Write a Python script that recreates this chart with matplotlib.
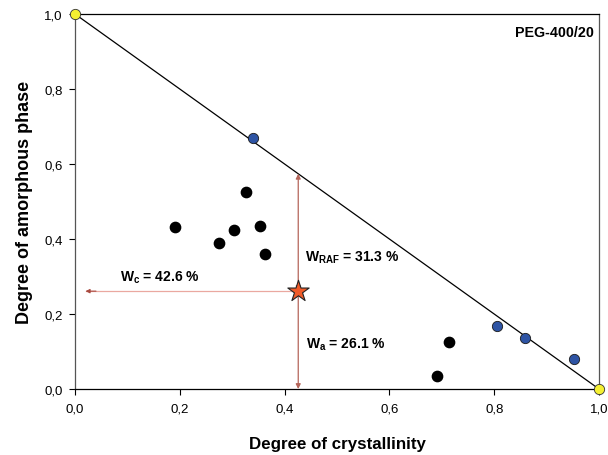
import matplotlib
matplotlib.use('Agg')
import matplotlib.pyplot as plt
from matplotlib.ticker import FuncFormatter

plt.rcParams['font.family'] = ['Liberation Sans', 'DejaVu Sans']

# samples (black)
xc_black = [0.191, 0.275, 0.303, 0.326, 0.353, 0.363, 0.714, 0.691]
xa_black = [0.432, 0.389, 0.424, 0.525, 0.435, 0.360, 0.125, 0.035]
# samples on the two-phase line (blue)
xc_blue = [0.340, 0.805, 0.859, 0.952]
xa_blue = [0.669, 0.168, 0.136, 0.080]
# end points
xc_end = [0.0, 1.0]
xa_end = [1.0, 0.0]
# PEG-400/20 point
wc = 0.426
wa = 0.261
wraf = 0.313

fig = plt.figure(figsize=(6.08, 4.56), dpi=100)
ax = fig.add_axes([0.1234, 0.1447, 0.8618, 0.8223])

ax.plot(xc_end, xa_end, color='black', lw=0.9, zorder=2)

arrow_col = '#b5655a'
# vertical arrows (W_RAF and W_a)
ax.annotate('', xy=(wc, 1 - wc), xytext=(wc, wa),
            arrowprops=dict(arrowstyle='<|-|>', color=arrow_col, lw=0.9,
                            mutation_scale=7, shrinkA=0, shrinkB=0))
ax.annotate('', xy=(wc, 0.0), xytext=(wc, wa),
            arrowprops=dict(arrowstyle='-|>', color=arrow_col, lw=0.9,
                            mutation_scale=7, shrinkA=0, shrinkB=0))
# horizontal arrow (W_c)
ax.plot([0.02, wc], [wa, wa], color='#eaa8a0', lw=0.9, zorder=1)
ax.annotate('', xy=(0.02, wa), xytext=(0.04, wa),
            arrowprops=dict(arrowstyle='-|>', color='#a84a40', lw=0.8,
                            mutation_scale=6, shrinkA=0, shrinkB=0))

ax.scatter(xc_black, xa_black, s=55, color='black', zorder=3, clip_on=False)
ax.scatter(xc_blue, xa_blue, s=55, color='#2e54a4', edgecolor='#1a1a1a',
           linewidth=0.6, zorder=3, clip_on=False)
ax.scatter(xc_end, xa_end, s=55, color='#f5f032', edgecolor='#333333',
           linewidth=0.6, zorder=4, clip_on=False)
ax.scatter([wc], [wa], s=260, marker='*', color='#f05a28', edgecolor='#222222',
           linewidth=0.8, zorder=5)

ax.text(0.438, 0.352, r'W$_{\mathregular{RAF}}$ = 31.3 %', fontsize=10,
        fontweight='bold', va='center')
ax.text(0.44, 0.12, r'W$_{\mathregular{a}}$ = 26.1 %', fontsize=10,
        fontweight='bold', va='center')
ax.text(0.086, 0.30, r'W$_{\mathregular{c}}$ = 42.6 %', fontsize=10,
        fontweight='bold', va='center')
ax.text(0.99, 0.97, 'PEG-400/20', fontsize=10.3, fontweight='bold',
        ha='right', va='top', transform=ax.transAxes)

ax.set_xlim(0, 1)
ax.set_ylim(0, 1)
ticks = [0.0, 0.2, 0.4, 0.6, 0.8, 1.0]
ax.set_xticks(ticks)
ax.set_yticks(ticks)
fmt = FuncFormatter(lambda v, p: f'{v:.1f}'.replace('.', ','))
ax.xaxis.set_major_formatter(fmt)
ax.yaxis.set_major_formatter(fmt)
ax.tick_params(direction='out', length=4, labelsize=9.5)
ax.tick_params(axis='x', pad=6)
ax.tick_params(axis='y', pad=5)
for s in ax.spines.values():
    s.set_linewidth(0.9)
ax.spines['left'].set_color('#555555')
ax.spines['right'].set_color('#555555')

ax.set_xlabel('Degree of crystallinity', fontsize=12.2, fontweight='bold', labelpad=15)
ax.set_ylabel('Degree of amorphous phase', fontsize=13, fontweight='bold', labelpad=8)

fig.savefig('out.png', dpi=100)
